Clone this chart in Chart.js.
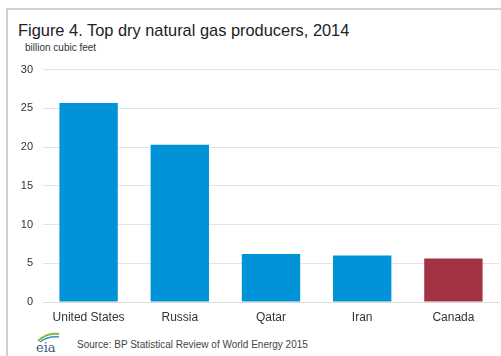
<!DOCTYPE html>
<html>
<head>
<meta charset="utf-8">
<script src="https://cdn.jsdelivr.net/npm/chart.js@4"></script>
<style>
  body { margin: 0; background: #fff; font-family: Arial, "Liberation Sans", sans-serif; }
  #wrap { position: relative; width: 501px; height: 356px; overflow: hidden; }
  #frame { position: absolute; left: 6px; top: 8px; width: 600px; height: 400px; border-left: 2px solid #d0d0d0; border-top: 2px solid #d0d0d0; }
  #title { position: absolute; left: 18px; top: 21px; font-size: 16.4px; color: #222; white-space: nowrap; }
  #units { position: absolute; left: 25px; top: 42px; font-size: 10px; color: #333; white-space: nowrap; }
  #source { position: absolute; left: 77px; top: 339px; font-size: 10px; color: #444; white-space: nowrap; }
  #logo { position: absolute; left: 33px; top: 330px; width: 30px; height: 24px; }
  #holder { position: absolute; left: 0; top: 53px; width: 501px; height: 277px; }
</style>
</head>
<body>
<div id="wrap">
  <div id="frame"></div>
  <div id="title">Figure 4. Top dry natural gas producers, 2014</div>
  <div id="units">billion cubic feet</div>
  <div id="holder"><canvas id="chart"></canvas></div>
  <svg id="logo" viewBox="0 0 30 24">
    <path d="M5 11 Q14 2 26 4" stroke="#7dbb42" stroke-width="2" fill="none"/>
    <path d="M7 12 Q15 6 26 7" stroke="#3a8fc8" stroke-width="1.5" fill="none"/>
    <text x="3" y="22" font-family="'DejaVu Serif', serif" font-size="13" fill="#3d5a78">eia</text>
  </svg>
  <div id="source">Source: BP Statistical Review of World Energy 2015</div>
</div>
<script>
const countries = ['United States', 'Russia', 'Qatar', 'Iran', 'Canada'];
const production = [25.7, 20.3, 6.2, 6.0, 5.6];
const barColors = ['#0093d8', '#0093d8', '#0093d8', '#0093d8', '#a33242'];
const yTicks = [0, 5, 10, 15, 20, 25, 30];

const ctx = document.getElementById('chart').getContext('2d');
new Chart(ctx, {
  type: 'bar',
  data: {
    labels: countries,
    datasets: [{
      data: production,
      backgroundColor: barColors,
      borderWidth: 0,
      categoryPercentage: 1,
      barPercentage: 0.64
    }]
  },
  options: {
    responsive: true,
    maintainAspectRatio: false,
    animation: false,
    layout: { padding: { top: 2, right: 2, left: 0, bottom: 0 } },
    plugins: { legend: { display: false }, tooltip: { enabled: false } },
    scales: {
      x: {
        grid: { display: false },
        border: { color: '#dcdcdc', width: 1 },
        ticks: { color: '#333', font: { family: 'Arial, "Liberation Sans"', size: 12 }, padding: 0 },
        afterFit: s => { s.height = 28; }
      },
      y: {
        min: 0,
        max: 30,
        afterBuildTicks: s => { s.ticks = yTicks.map(v => ({ value: v })); },
        grid: { color: '#e4e4e4', drawTicks: false },
        border: { display: false },
        ticks: { color: '#333', font: { family: 'Arial, "Liberation Sans"', size: 11 }, padding: 10 },
        afterFit: s => { s.width = 43; }
      }
    }
  }
});
</script>
</body>
</html>
